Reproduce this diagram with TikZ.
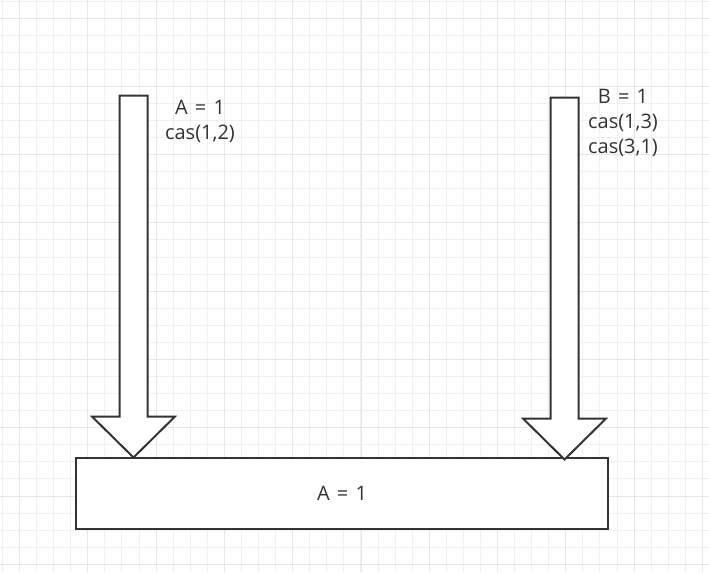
\documentclass[tikz,border=0pt]{standalone}
\usepackage{fontspec}
\setmainfont{Open Sans}
\definecolor{inkgray}{HTML}{333333}
\definecolor{gridminor}{HTML}{F0F0F0}
\definecolor{gridmajor}{HTML}{E6E6E6}
\newcommand\labelfont{\fontsize{15}{18.75}\selectfont\spaceskip=0.36em\relax}

\begin{document}
\begin{tikzpicture}[x=0.75pt,y=-0.75pt,
              gridline/.style={draw=gridminor,line width=0.75pt},
              majorline/.style={draw=gridmajor,line width=0.75pt},
              blockarrow/.style={draw=inkgray,line width=1.5pt,fill=white,line join=miter},
              varlabel/.style={text=inkgray,font=\labelfont,align=center,inner sep=0pt},
              statebox/.style={draw=inkgray,line width=1.5pt,fill=white,text=inkgray,
                font=\labelfont,minimum width=399pt,minimum height=53.25pt,inner sep=0pt}
            ]
              \fill[white] (0,0) rectangle (709,572);
              \useasboundingbox (0,0) rectangle (709,572);
              % grid
              \foreach \i in {0,...,41}
                \draw[gridline] ({2.5+17.07*\i},0) -- ++(0,572);
              \foreach \j in {0,...,33}
                \draw[gridline] (0,{1+17.07*\j}) -- ++(709,0);
              \foreach \i in {0,...,10}
                \draw[majorline] ({19.6+68.28*\i},0) -- ++(0,572);
              \foreach \j in {0,...,8}
                \draw[majorline] (0,{18.1+68.28*\j}) -- ++(709,0);
              % shared value
              \node[statebox] (shared) at (342,493) {A = 1};
              % writers
              \foreach \name/\x/\top/\tip in {A/133.5/95.5/457.5, B/564.5/97.5/459.5} {
                \coordinate (tip\name) at (\x,\tip);
                \draw[blockarrow] (\x-14,\top) -- (\x+14,\top) -- (\x+14,\tip-41)
                  -- (\x+41.5,\tip-41) -- (tip\name) -- (\x-41.5,\tip-41)
                  -- (\x-14,\tip-41) -- cycle;
              }
              \node[varlabel] (opsA) at (200,121) {A = 1\\cas(1,2)};
              \node[varlabel] (opsB) at (623,123) {B = 1\\cas(1,3)\\cas(3,1)};
            \end{tikzpicture}
\end{document}
